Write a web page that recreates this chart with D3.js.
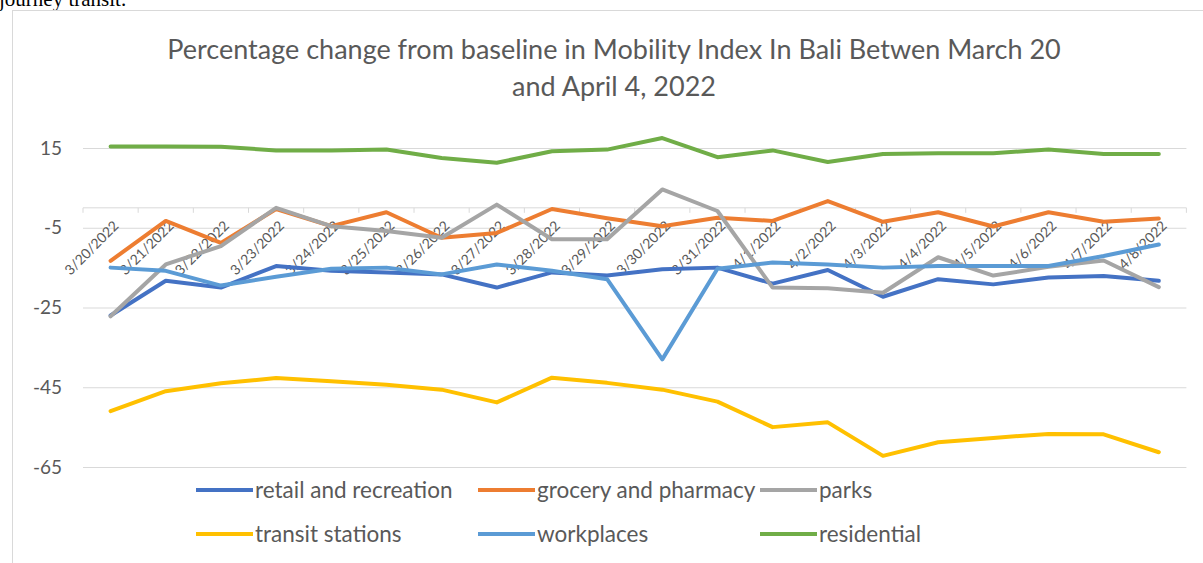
<!DOCTYPE html>
<html>
<head>
<meta charset="utf-8">
<script src="https://cdn.jsdelivr.net/npm/d3@7"></script>
<style>
  body { margin: 0; background: #fff; }
  svg text { font-family: Lato, "Open Sans", sans-serif; fill: #595959; }
</style>
</head>
<body>
<svg id="chart" width="1203" height="563"></svg>
<script>
const dates = ["3/20/2022", "3/21/2022", "3/22/2022", "3/23/2022", "3/24/2022", "3/25/2022",
  "3/26/2022", "3/27/2022", "3/28/2022", "3/29/2022", "3/30/2022", "3/31/2022", "4/1/2022",
  "4/2/2022", "4/3/2022", "4/4/2022", "4/5/2022", "4/6/2022", "4/7/2022", "4/8/2022"];

const retail = [-27, -18.3, -20, -14.6, -15.8, -16.2, -16.7, -20, -16.2, -17, -15.4, -15, -19, -15.6, -22.3, -17.9, -19.2, -17.5, -17.1, -18.3];
const grocery = [-13.3, -3.3, -8.8, -0.3, -4.6, -1.1, -7.5, -6.3, -0.3, -2.6, -4.6, -2.5, -3.3, 1.7, -3.5, -1.1, -4.7, -1.1, -3.5, -2.7];
const parks = [-27.2, -14.2, -9.6, 0, -4.6, -5.8, -7.5, 0.8, -7.9, -7.9, 4.6, -0.8, -20, -20.2, -21.3, -12.4, -17, -14.8, -13.2, -19.9];
const transit = [-51, -46, -44, -42.7, -43.5, -44.4, -45.6, -48.8, -42.6, -43.9, -45.6, -48.6, -55, -53.8, -62.2, -58.8, -57.7, -56.7, -56.8, -61.3];
const workplaces = [-15, -15.8, -19.5, -17.3, -15.3, -15, -16.7, -14.2, -15.8, -17.9, -38, -15.3, -13.7, -14.2, -15, -14.6, -14.6, -14.6, -12.1, -9.2];
const residential = [15.4, 15.4, 15.3, 14.4, 14.4, 14.6, 12.5, 11.3, 14.2, 14.6, 17.5, 12.7, 14.4, 11.5, 13.5, 13.7, 13.7, 14.6, 13.5, 13.5];

const yTicks = [15, -5, -25, -45, -65];

const series = [
  { name: "retail and recreation", values: retail, color: "#4472C4" },
  { name: "grocery and pharmacy", values: grocery, color: "#ED7D31" },
  { name: "parks", values: parks, color: "#A5A5A5" },
  { name: "transit stations", values: transit, color: "#FFC000" },
  { name: "workplaces", values: workplaces, color: "#5B9BD5" },
  { name: "residential", values: residential, color: "#70AD47" }
];

const svg = d3.select("#chart");

// bit of the document text above the chart, cut off at the top
svg.append("text")
  .attr("x", -1)
  .attr("y", 6)
  .style("font-family", "'Liberation Serif', serif")
  .style("font-size", "21px")
  .style("fill", "#000")
  .text("journey transit.");

// chart frame
svg.append("rect")
  .attr("x", 12.5)
  .attr("y", 10.5)
  .attr("width", 1200)
  .attr("height", 560)
  .attr("fill", "#fff")
  .attr("stroke", "#d9d9d9");

const title = svg.append("text")
  .attr("text-anchor", "middle")
  .style("font-size", "27px");
title.append("tspan").attr("x", 614).attr("y", 59)
  .text("Percentage change from baseline in Mobility Index In Bali Betwen March 20");
title.append("tspan").attr("x", 614).attr("y", 96)
  .text("and April 4, 2022");

const margin = { left: 83, right: 16 };
const x = d3.scaleBand()
  .domain(dates)
  .range([margin.left, 1203 - margin.right - 0.6]);

const y = d3.scaleLinear()
  .domain([-65, 15])
  .range([467, 148]);

const cx = (d) => x(d) + x.bandwidth() / 2;

// horizontal gridlines + y labels
const yAxis = d3.axisLeft(y)
  .tickValues(yTicks)
  .tickSize(-(x.range()[1] - x.range()[0]))
  .tickPadding(21)
  .tickFormat((d) => String(d));

const yAxisG = svg.append("g")
  .attr("transform", `translate(${margin.left},0)`)
  .call(yAxis);
yAxisG.select(".domain").remove();
yAxisG.selectAll(".tick line").attr("stroke", "#d9d9d9");
yAxisG.selectAll(".tick text")
  .style("font-size", "19px")
  .style("fill", "#595959")
  .style("font-family", "Lato, sans-serif");

// category axis sits at zero
const xAxisG = svg.append("g")
  .attr("transform", `translate(0,${y(0)})`);
xAxisG.append("line")
  .attr("x1", x.range()[0]).attr("x2", x.range()[1])
  .attr("stroke", "#d9d9d9");
xAxisG.selectAll(".tk")
  .data(dates.concat(["end"]))
  .enter()
  .append("line")
  .attr("class", "tk")
  .attr("x1", (d, i) => x.range()[0] + i * x.step())
  .attr("x2", (d, i) => x.range()[0] + i * x.step())
  .attr("y1", 0).attr("y2", 5)
  .attr("stroke", "#d9d9d9");

// lines
const line = d3.line()
  .x((d, i) => cx(dates[i]))
  .y((d) => y(d));

svg.append("g")
  .selectAll("path")
  .data(series)
  .enter()
  .append("path")
  .attr("d", (d) => line(d.values))
  .attr("fill", "none")
  .attr("stroke", (d) => d.color)
  .attr("stroke-width", 4)
  .attr("stroke-linejoin", "round")
  .attr("stroke-linecap", "round");

// rotated date labels drawn over the lines, like the original
xAxisG.selectAll(".lbl")
  .data(dates)
  .enter()
  .append("text")
  .attr("class", "lbl")
  .attr("text-anchor", "end")
  .attr("transform", (d) => `translate(${cx(d) + 9},${19}) rotate(-45)`)
  .style("font-size", "14px")
  .text((d) => d);

// legend
const legendPos = [
  [196, 490], [478, 490], [760, 490],
  [196, 534], [478, 534], [760, 534]
];
const legend = svg.append("g")
  .selectAll("g")
  .data(series)
  .enter()
  .append("g")
  .attr("transform", (d, i) => `translate(${legendPos[i][0]},${legendPos[i][1]})`);
legend.append("line")
  .attr("x1", 0).attr("x2", 57)
  .attr("stroke", (d) => d.color)
  .attr("stroke-width", 4);
legend.append("text")
  .attr("x", 59)
  .attr("dy", "0.35em")
  .style("font-size", "22.5px")
  .text((d) => d.name);
</script>
</body>
</html>
